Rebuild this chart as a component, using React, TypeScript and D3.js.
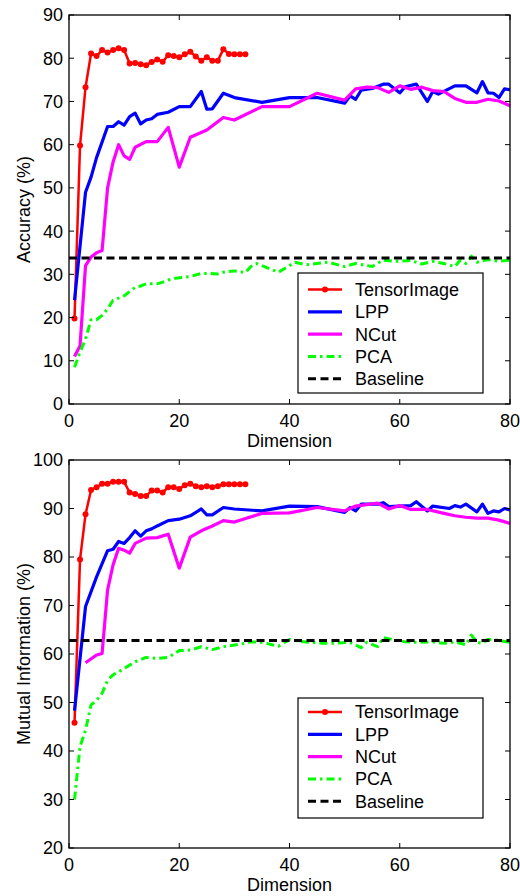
import React from 'react';
import * as d3 from 'd3';

// ---------- data ----------
const dimTicks = [0, 20, 40, 60, 80];
const accTicks = [0, 10, 20, 30, 40, 50, 60, 70, 80, 90];
const miTicks = [20, 30, 40, 50, 60, 70, 80, 90, 100];
const legendLabels = ['TensorImage', 'LPP', 'NCut', 'PCA', 'Baseline'];

const tensorDims = [1, 2, 3, 4, 5, 6, 7, 8, 9, 10, 11, 12, 13, 14, 15, 16, 17, 18, 19, 20, 21, 22, 23, 24, 25, 26, 27, 28, 29, 30, 31, 32];
const tensorAcc = [19.8, 59.8, 73.3, 81.1, 80.5, 81.9, 81.3, 81.9, 82.3, 81.9, 78.8, 78.9, 78.6, 78.4, 79.1, 79.7, 79.2, 80.7, 80.5, 80.2, 80.9, 81.5, 80.4, 79.4, 80.2, 79.4, 79.4, 82.1, 81.0, 80.9, 80.9, 80.9];
const tensorMI = [45.8, 79.5, 88.8, 93.8, 94.4, 95.1, 95.1, 95.5, 95.5, 95.5, 93.3, 93.0, 92.6, 92.6, 93.7, 93.7, 93.3, 94.4, 94.4, 94.0, 94.8, 95.1, 94.6, 94.4, 94.6, 94.4, 94.6, 95.0, 95.0, 95.0, 95.0, 95.0];

const lppAccDims = [1, 3, 4, 5, 7, 8, 9, 10, 11, 12, 13, 14, 15, 16, 18, 20, 22, 24, 25, 26, 28, 30, 35, 40, 45, 50, 51, 52, 53, 55, 57, 58, 60, 61, 63, 65, 66, 67, 70, 72, 74, 75, 76, 77, 78, 79, 80];
const lppAcc = [24, 49, 52.5, 57, 64.2, 64.2, 65.3, 64.5, 66.5, 67.3, 64.8, 65.7, 66, 67, 67.5, 68.8, 68.8, 72.3, 68.2, 68.3, 71.9, 70.9, 69.8, 70.9, 70.9, 69.6, 71.3, 70.5, 72.6, 73, 74, 74, 72, 73.4, 74, 70, 72.3, 71.7, 73.6, 73.6, 72, 74.6, 72, 71.9, 70.9, 72.9, 72.7];

const ncutAccDims = [1, 2, 3, 4, 5, 6, 7, 8, 9, 10, 11, 12, 14, 16, 18, 20, 22, 25, 28, 30, 35, 40, 45, 50, 52, 54, 56, 58, 60, 62, 64, 66, 68, 70, 72, 74, 76, 78, 80];
const ncutAcc = [11, 13.5, 32, 34, 35, 35.5, 50, 56, 60, 57.4, 56.6, 59.4, 60.7, 60.7, 64, 54.8, 61.7, 63.4, 66.3, 65.7, 68.8, 68.8, 71.9, 70.3, 72.9, 73.3, 73.2, 72.1, 73.6, 72.8, 73.3, 72.5, 72.3, 70.7, 69.8, 69.8, 70.5, 70.1, 69.0];

const pcaAccDims = [1, 2, 3, 4, 5, 6, 7, 8, 9, 10, 11, 12, 13, 14, 15, 16, 17, 18, 19, 20, 22, 24, 25, 27, 28, 30, 32, 33, 34, 36, 38, 41, 43, 47, 50, 52, 55, 57, 59, 62, 64, 66, 68, 70, 71, 72, 73, 74, 76, 78, 80];
const pcaAcc = [8.5, 12, 15, 19.5, 19.5, 20.5, 22, 24, 24.5, 25, 26, 27, 27.3, 27.8, 27.8, 27.8, 28.2, 28.7, 29, 29.2, 29.5, 30.2, 30.2, 30.1, 30.5, 30.8, 30.4, 31.8, 32.5, 31.5, 30.5, 32.8, 32.2, 32.8, 31.8, 32.5, 31.8, 33.3, 33.0, 33.2, 32.4, 33.0, 32.5, 31.8, 33.3, 32.5, 34.2, 32.8, 33.4, 33.0, 33.3];

const lppMIDims = [1, 3, 5, 7, 8, 9, 10, 11, 12, 13, 14, 15, 16, 18, 20, 22, 24, 25, 26, 28, 30, 35, 40, 45, 50, 51, 52, 53, 56, 57, 58, 62, 63, 65, 66, 69, 70, 71, 72, 74, 75, 76, 77, 78, 79, 80];
const lppMI = [48.3, 69.8, 75.9, 81.3, 81.6, 83.2, 82.8, 84.0, 85.4, 84.3, 85.4, 85.8, 86.4, 87.5, 87.8, 88.5, 89.9, 88.7, 88.7, 90.2, 89.9, 89.5, 90.5, 90.4, 89.2, 90.2, 89.5, 90.9, 90.9, 91.2, 90.4, 90.6, 91.4, 89.5, 90.5, 90.0, 90.6, 90.3, 90.9, 89.3, 90.9, 89.0, 89.5, 89.3, 90.0, 89.7];

const ncutMIDims = [3, 5, 6, 7, 8, 9, 10, 11, 12, 14, 16, 18, 20, 22, 24, 26, 28, 30, 35, 40, 45, 50, 52, 56, 58, 60, 62, 65, 68, 70, 72, 74, 76, 78, 80];
const ncutMI = [58.2, 59.8, 60.1, 73.2, 78.4, 81.8, 81.4, 80.8, 82.8, 83.9, 84.0, 84.7, 77.7, 84.1, 85.4, 86.4, 87.5, 87.2, 89.0, 89.1, 90.2, 89.5, 90.5, 91.1, 89.9, 90.6, 89.8, 89.8, 89.0, 88.5, 88.2, 88.0, 88.0, 87.6, 86.9];

const pcaMIDims = [1, 2, 3, 4, 5, 6, 7, 8, 10, 12, 14, 16, 18, 20, 22, 24, 26, 28, 31, 33, 35, 38, 40, 42, 44, 46, 48, 51, 53, 54, 56, 57, 59, 61, 63, 66, 68, 70, 72, 73, 74, 75, 76, 78, 80];
const pcaMI = [30.0, 40.9, 44.3, 49.5, 50.4, 51.9, 54.6, 55.7, 57.0, 58.4, 59.3, 59.1, 59.3, 60.7, 60.8, 61.5, 60.9, 61.5, 62.0, 62.5, 62.4, 61.6, 63.0, 62.6, 62.4, 62.2, 62.2, 62.4, 61.3, 62.4, 61.5, 63.4, 62.9, 62.5, 62.4, 62.5, 62.2, 62.5, 61.9, 63.9, 62.4, 62.2, 63.0, 62.8, 62.4];

const baselineAcc = 33.8;
const baselineMI = 62.8;

// ---------- styles ----------
const FONT = "'Liberation Sans', Arial, Helvetica, sans-serif";
const FS = 18;
const X_LEFT = 69;
const X_RIGHT = 510;

type Series = { dims: number[]; vals: number[]; color: string; width: number; dash?: string; markers?: boolean };

const styles: Record<string, { color: string; width: number; dash?: string; markers?: boolean }> = {
  TensorImage: { color: '#ff0000', width: 2.5, markers: true },
  LPP: { color: '#0000ff', width: 3.2 },
  NCut: { color: '#ff00ff', width: 3.2 },
  PCA: { color: '#00ff00', width: 3, dash: '8,4,2.5,4' },
  Baseline: { color: '#000000', width: 3, dash: '8,4.5' },
};

function Panel(props: {
  top: number; bottom: number; yDomain: [number, number]; yTicks: number[]; ylabel: string;
  series: Series[]; baseline: number; legendTop: number; legendRow0: number; xlabelOffset: number;
}) {
  const { top, bottom, yDomain, yTicks, ylabel, series, baseline, legendTop, legendRow0, xlabelOffset } = props;
  const x = d3.scaleLinear().domain([0, 80]).range([X_LEFT, X_RIGHT]);
  const y = d3.scaleLinear().domain(yDomain).range([bottom, top]);
  const line = d3.line<[number, number]>().x((d) => x(d[0])).y((d) => y(d[1]));
  const tl = 5;
  const rowH = 22.3;
  const lgX = 298;
  const lgW = 185;
  const lgH = 120;
  return (
    <g>
      {series.map((s, i) => {
        const pts = s.dims.map((d, j) => [d, s.vals[j]] as [number, number]);
        return (
          <g key={i}>
            <path d={line(pts) || ''} fill="none" stroke={s.color} strokeWidth={s.width}
              strokeDasharray={s.dash} strokeLinejoin="round" />
            {s.markers && pts.map((p, j) => (
              <circle key={j} cx={x(p[0])} cy={y(p[1])} r={3} fill={s.color} />
            ))}
          </g>
        );
      })}
      {/* baseline */}
      <path d={line([[0, baseline], [80, baseline]]) || ''} fill="none" stroke={styles.Baseline.color}
        strokeWidth={styles.Baseline.width} strokeDasharray={styles.Baseline.dash} />
      {/* axes box */}
      <rect x={X_LEFT} y={top} width={X_RIGHT - X_LEFT} height={bottom - top} fill="none" stroke="#000" strokeWidth={1.3} />
      {yTicks.map((t) => (
        <g key={'y' + t}>
          <line x1={X_LEFT} x2={X_LEFT + tl} y1={y(t)} y2={y(t)} stroke="#000" strokeWidth={1} />
          <line x1={X_RIGHT} x2={X_RIGHT - tl} y1={y(t)} y2={y(t)} stroke="#000" strokeWidth={1} />
          <text x={X_LEFT - 6} y={y(t)} dy="0.36em" textAnchor="end" fontFamily={FONT} fontSize={FS}>{t}</text>
        </g>
      ))}
      {dimTicks.map((t) => (
        <g key={'x' + t}>
          <line x1={x(t)} x2={x(t)} y1={bottom} y2={bottom - tl} stroke="#000" strokeWidth={1} />
          <line x1={x(t)} x2={x(t)} y1={top} y2={top + tl} stroke="#000" strokeWidth={1} />
          <text x={x(t)} y={bottom + 17} dy="0.36em" textAnchor="middle" fontFamily={FONT} fontSize={FS}>{t}</text>
        </g>
      ))}
      <text x={(X_LEFT + X_RIGHT) / 2} y={bottom + xlabelOffset} dy="0.36em" textAnchor="middle" fontFamily={FONT} fontSize={FS}>Dimension</text>
      <text transform={`translate(24,${(top + bottom) / 2}) rotate(-90)`} dy="0.36em" textAnchor="middle" fontFamily={FONT} fontSize={FS}>{ylabel}</text>
      {/* legend */}
      <rect x={lgX} y={legendTop} width={lgW} height={lgH} fill="#fff" stroke="#000" strokeWidth={1.2} />
      {legendLabels.map((lab, i) => {
        const st = styles[lab];
        const cy = legendRow0 + i * rowH;
        return (
          <g key={lab}>
            <line x1={308} x2={342} y1={cy} y2={cy} stroke={st.color} strokeWidth={st.width}
              strokeDasharray={st.dash} />
            {st.markers && <circle cx={325} cy={cy} r={3} fill={st.color} />}
            <text x={355} y={cy} dy="0.36em" fontFamily={FONT} fontSize={FS}>{lab}</text>
          </g>
        );
      })}
    </g>
  );
}

export default function App() {
  const accSeries: Series[] = [
    { dims: tensorDims, vals: tensorAcc, ...styles.TensorImage },
    { dims: lppAccDims, vals: lppAcc, ...styles.LPP },
    { dims: ncutAccDims, vals: ncutAcc, ...styles.NCut },
    { dims: pcaAccDims, vals: pcaAcc, ...styles.PCA },
  ];
  const miSeries: Series[] = [
    { dims: tensorDims, vals: tensorMI, ...styles.TensorImage },
    { dims: lppMIDims, vals: lppMI, ...styles.LPP },
    { dims: ncutMIDims, vals: ncutMI, ...styles.NCut },
    { dims: pcaMIDims, vals: pcaMI, ...styles.PCA },
  ];
  return (
    <svg width={520} height={896} style={{ position: 'absolute', left: 0, top: 0, background: '#fff' }}>
      <rect x={0} y={0} width={520} height={896} fill="#fff" />
      <Panel top={15} bottom={404} yDomain={[0, 90]} yTicks={accTicks} ylabel="Accuracy (%)"
        series={accSeries} baseline={baselineAcc} legendTop={273} legendRow0={289.5} xlabelOffset={37} />
      <Panel top={460} bottom={848} yDomain={[20, 100]} yTicks={miTicks} ylabel="Mutual Information (%)"
        series={miSeries} baseline={baselineMI} legendTop={698} legendRow0={712} xlabelOffset={37} />
    </svg>
  );
}
